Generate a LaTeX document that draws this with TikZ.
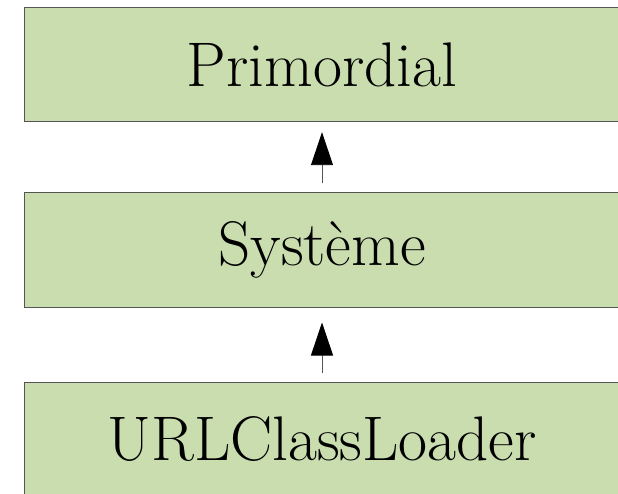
\documentclass[tikz,border=0pt]{standalone}
\usepackage{tikz}
\usepackage{xcolor}
\usetikzlibrary{arrows.meta}
\definecolor{boxgreen}{RGB}{201,221,175}
\definecolor{boxline}{RGB}{85,85,85}
\tikzset{
  loaderbox/.style={draw=boxline, line width=1pt, fill=boxgreen,
    minimum width=596pt, minimum height=114pt, inner sep=0pt,
    font=\fontsize{63}{66}\selectfont},
  parentarrow/.style={-{Triangle[length=33pt,width=22pt,color=black]},
    draw=boxline, line width=0.9pt}
}
\begin{document}
\begin{tikzpicture}[x=1pt,y=1pt]
\useasboundingbox (0,0) rectangle (618,493);
% chargeurs
\node [loaderbox] (prim) at (322,428.3) {Primordial};
\node [loaderbox] (sys) at (322,243) {Système};
\node [loaderbox] (url) at (322,54) {URLClassLoader};
% délégation
\draw [parentarrow, shorten <=9pt, shorten >=10pt] (sys.north) -- (prim.south);
\draw [parentarrow, shorten <=9pt, shorten >=15pt] (url.north) -- (sys.south);
\end{tikzpicture}
\end{document}
